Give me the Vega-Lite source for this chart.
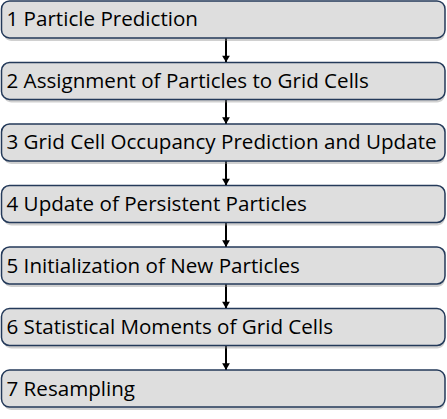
{
  "$schema": "https://vega.github.io/schema/vega-lite/v6.json",
  "width": 447,
  "height": 419,
  "padding": 0,
  "autosize": {"type": "none"},
  "background": "white",
  "config": {"view": {"stroke": null}},
  "data": {"values": [
    {"step": 1, "label": "1 Particle Prediction"},
    {"step": 2, "label": "2 Assignment of Particles to Grid Cells"},
    {"step": 3, "label": "3 Grid Cell Occupancy Prediction and Update"},
    {"step": 4, "label": "4 Update of Persistent Particles"},
    {"step": 5, "label": "5 Initialization of New Particles"},
    {"step": 6, "label": "6 Statistical Moments of Grid Cells"},
    {"step": 7, "label": "7 Resampling"}
  ]},
  "encoding": {
    "y": {"field": "step", "type": "ordinal", "axis": null,
          "scale": {"type": "band", "range": [1, 407], "paddingInner": 0.4, "paddingOuter": 0}}
  },
  "layer": [
    {
      "mark": {"type": "rule", "color": "black", "strokeWidth": 1.6},
      "encoding": {
        "x": {"datum": 226, "type": "quantitative", "axis": null, "scale": {"domain": [0, 447], "nice": false, "zero": false}},
        "y": {"datum": 1, "type": "ordinal", "bandPosition": 0.5},
        "y2": {"datum": 7, "bandPosition": 0.5}
      }
    },
    {
      "mark": {"type": "rect", "cornerRadius": 8, "fill": "#8a8a8a", "opacity": 0.4, "xOffset": 2, "yOffset": 3},
      "encoding": {
        "x": {"datum": 1.5, "type": "quantitative"},
        "x2": {"datum": 445}
      }
    },
    {
      "mark": {"type": "rect", "cornerRadius": 8, "fill": "#dedede", "stroke": "#243a5a", "strokeWidth": 1.5},
      "encoding": {
        "x": {"datum": 1.5, "type": "quantitative"},
        "x2": {"datum": 445}
      }
    },
    {
      "transform": [{"filter": "datum.step > 1"}],
      "mark": {"type": "point", "shape": "triangle-down", "filled": true, "color": "black", "size": 60, "opacity": 1, "yOffset": -3.5},
      "encoding": {
        "x": {"datum": 226, "type": "quantitative"},
        "y": {"field": "step", "type": "ordinal", "bandPosition": 0}
      }
    },
    {
      "mark": {"type": "text", "align": "left", "baseline": "middle", "font": "Open Sans", "fontSize": 20.6, "color": "black", "dy": 1},
      "encoding": {
        "x": {"datum": 6.5, "type": "quantitative"},
        "text": {"field": "label"}
      }
    }
  ]
}
